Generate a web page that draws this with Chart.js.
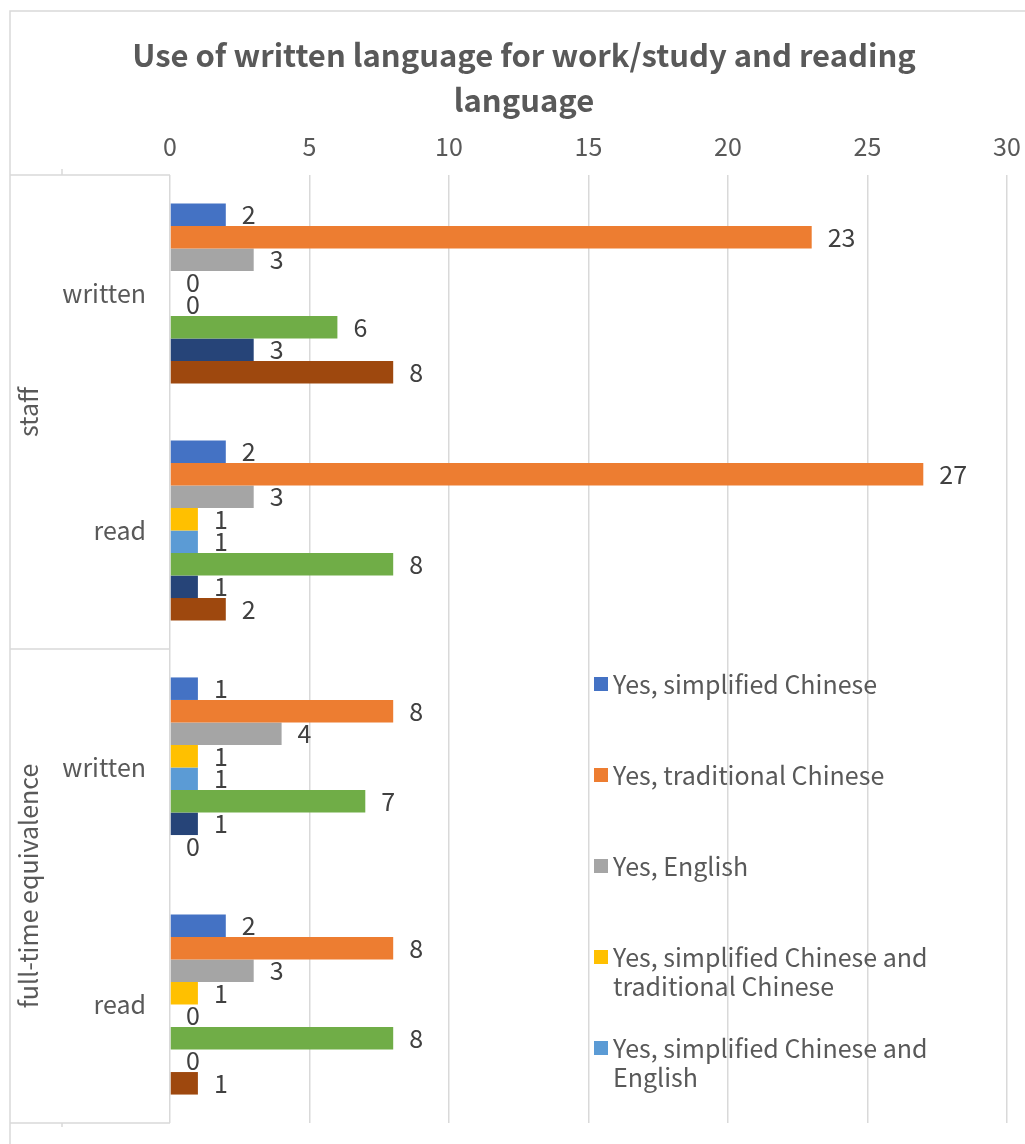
<!DOCTYPE html>
<html>
<head>
<meta charset="utf-8">
<title>Use of written language</title>
<script src="https://cdn.jsdelivr.net/npm/chart.js@4"></script>
<style>
  html, body { margin: 0; padding: 0; background: #fff; }
  #wrap { width: 1025px; height: 1144px; }
</style>
</head>
<body>
<div id="wrap"><canvas id="chart" width="1025" height="1144"></canvas></div>
<script>
'use strict';

// categories (outer group / inner label)
let groups = ['staff', 'staff', 'full-time equivalence', 'full-time equivalence'];
let subLabels = ['written', 'read', 'written', 'read'];

// series names, only the first 5 fit in the legend of the original
let seriesNames = [
  'Yes, simplified Chinese',
  'Yes, traditional Chinese',
  'Yes, English',
  'Yes, simplified Chinese and traditional Chinese',
  'Yes, simplified Chinese and English',
  'Yes, traditional Chinese and English',
  'Yes, simplified Chinese, traditional Chinese and English',
  'No'
];
let seriesColors = ['#4472C4', '#ED7D31', '#A5A5A5', '#FFC000', '#5B9BD5', '#70AD47', '#264478', '#9E480E'];

// values per series
let simplified = [2, 2, 1, 2];
let traditional = [23, 27, 8, 8];
let english = [3, 3, 4, 3];
let simpTrad = [0, 1, 1, 1];
let simpEng = [0, 1, 1, 0];
let tradEng = [6, 8, 7, 8];
let allThree = [3, 1, 1, 0];
let noWritten = [8, 2, 0, 1];

let titleLines = ['Use of written language for work/study and reading', 'language'];
let xTicks = { min: 0, max: 30, step: 5 };
let legendShown = 5;

let seriesValues = [simplified, traditional, english, simpTrad, simpEng, tradEng, allThree, noWritten];

Chart.defaults.font.family = "'Noto Sans CJK SC', 'Noto Sans', sans-serif";

let datasets = [];
for (let i = 0; i < seriesValues.length; i++) {
  datasets.push({
    label: seriesNames[i],
    data: seriesValues[i],
    backgroundColor: seriesColors[i],
    borderWidth: 0
  });
}

///// plugins /////
const frame = {
  id: 'frame',
  beforeDraw(chart) {
    let ctx = chart.ctx;
    ctx.save();
    ctx.fillStyle = '#fff';
    ctx.fillRect(0, 0, chart.width, chart.height);
    ctx.strokeStyle = '#D9D9D9';
    ctx.lineWidth = 1.5;
    ctx.strokeRect(10, 11, chart.width + 20, chart.height + 20);
    // title, centred on the (cut off) chart frame
    ctx.font = 'bold 31px ' + Chart.defaults.font.family;
    ctx.fillStyle = '#595959';
    ctx.textAlign = 'center';
    ctx.textBaseline = 'middle';
    titleLines.forEach((t, k) => ctx.fillText(t, 524, 55 + k * 45));
    ctx.restore();
  }
};

const valueLabels = {
  id: 'valueLabels',
  afterDatasetsDraw(chart) {
    let ctx = chart.ctx;
    ctx.save();
    ctx.font = '25px ' + Chart.defaults.font.family;
    ctx.fillStyle = '#404040';
    ctx.textAlign = 'left';
    ctx.textBaseline = 'middle';
    chart.data.datasets.forEach((ds, i) => {
      let meta = chart.getDatasetMeta(i);
      meta.data.forEach((bar, j) => {
        ctx.fillText(String(ds.data[j]), bar.x + 16, bar.y);
      });
    });
    ctx.restore();
  }
};

const categoryAxis = {
  id: 'categoryAxis',
  afterDraw(chart) {
    let ctx = chart.ctx;
    let y = chart.scales.y;
    let area = chart.chartArea;
    let left = 10;
    ctx.save();
    ctx.font = '25px ' + Chart.defaults.font.family;
    ctx.fillStyle = '#595959';
    ctx.textAlign = 'right';
    ctx.textBaseline = 'middle';
    for (let i = 0; i < subLabels.length; i++) {
      ctx.fillText(subLabels[i], area.left - 24, y.getPixelForValue(i));
    }
    // group separators + rotated group names
    ctx.strokeStyle = '#D9D9D9';
    ctx.lineWidth = 1.5;
    let start = 0;
    let bounds = [area.top];
    for (let i = 1; i <= groups.length; i++) {
      if (i === groups.length || groups[i] !== groups[start]) {
        let top = start === 0 ? area.top : (y.getPixelForValue(start - 1) + y.getPixelForValue(start)) / 2;
        let bottom = i === groups.length ? area.bottom : (y.getPixelForValue(i - 1) + y.getPixelForValue(i)) / 2;
        bounds.push(bottom);
        ctx.save();
        ctx.translate(left + 18, (top + bottom) / 2);
        ctx.rotate(-Math.PI / 2);
        ctx.textAlign = 'center';
        ctx.fillText(groups[start], 0, 0);
        ctx.restore();
        start = i;
      }
    }
    bounds.forEach(b => {
      ctx.beginPath();
      ctx.moveTo(left, b);
      ctx.lineTo(area.left, b);
      ctx.stroke();
    });
    ctx.beginPath();
    ctx.moveTo(62, area.top - 6);
    ctx.lineTo(62, area.top);
    ctx.moveTo(62, area.bottom);
    ctx.lineTo(62, area.bottom + 4);
    ctx.stroke();
    ctx.restore();
  }
};

const sideLegend = {
  id: 'sideLegend',
  afterDraw(chart) {
    let ctx = chart.ctx;
    let boxX = 594, textX = 613, firstY = 684, step = 91, lineH = 29, maxW = 360;
    ctx.save();
    ctx.font = '25px ' + Chart.defaults.font.family;
    ctx.textAlign = 'left';
    ctx.textBaseline = 'middle';
    for (let i = 0; i < legendShown; i++) {
      let yy = firstY + i * step;
      ctx.fillStyle = seriesColors[i];
      ctx.fillRect(boxX, yy - 7, 14, 14);
      // simple word wrap
      let words = seriesNames[i].split(' ');
      let lines = [];
      let line = '';
      words.forEach(w => {
        let test = line ? line + ' ' + w : w;
        if (ctx.measureText(test).width > maxW && line) {
          lines.push(line);
          line = w;
        } else {
          line = test;
        }
      });
      lines.push(line);
      ctx.fillStyle = '#595959';
      lines.forEach((l, k) => ctx.fillText(l, textX, yy + k * lineH));
    }
    ctx.restore();
  }
};

const ctx = document.getElementById('chart').getContext('2d');
const myChart = new Chart(ctx, {
  type: 'bar',
  data: {
    labels: subLabels,
    datasets: datasets
  },
  options: {
    indexAxis: 'y',
    responsive: false,
    animation: false,
    categoryPercentage: 0.76,
    barPercentage: 1,
    layout: {
      padding: { left: 10, right: 18, top: 122, bottom: 21 }
    },
    plugins: {
      legend: { display: false },
      tooltip: { enabled: false },
      title: { display: false }
    },
    scales: {
      x: {
        position: 'top',
        min: xTicks.min,
        max: xTicks.max,
        ticks: {
          stepSize: xTicks.step,
          color: '#595959',
          font: { size: 25 },
          padding: 14
        },
        grid: { color: '#D9D9D9', lineWidth: 1.5, drawTicks: false },
        border: { display: false },
        afterFit(s) {
          s.height = 53;
          s.paddingLeft = 0;
          s.paddingRight = 0;
        }
      },
      y: {
        ticks: { display: false },
        grid: { display: false },
        border: { display: false },
        afterFit(s) { s.width = 160; }
      }
    }
  },
  plugins: [frame, valueLabels, categoryAxis, sideLegend]
});
</script>
</body>
</html>
